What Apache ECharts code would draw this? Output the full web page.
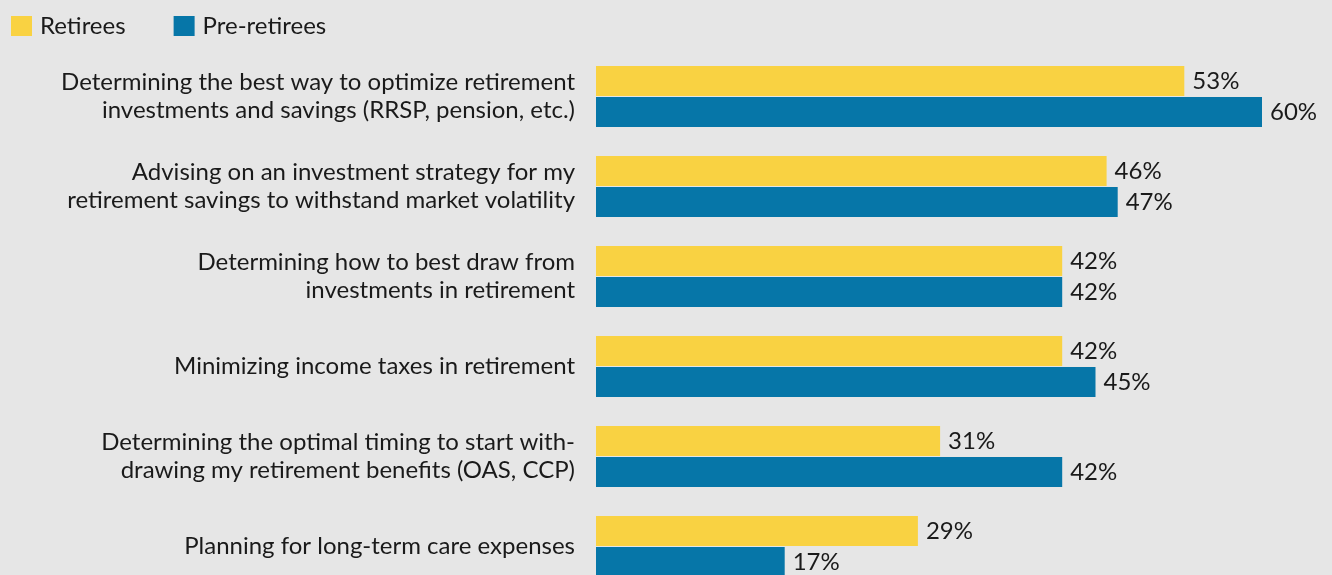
<!DOCTYPE html>
<html>
<head>
<meta charset="utf-8">
<script src="https://cdn.jsdelivr.net/npm/echarts@6/dist/echarts.min.js"></script>
<style>
html,body{margin:0;padding:0;background:#e6e6e6;}
#chart{width:1332px;height:575px;}
</style>
</head>
<body>
<div id="chart"></div>
<script>
const categories = [
  "Determining the best way to optimize retirement\ninvestments and savings (RRSP, pension, etc.)",
  "Advising on an investment strategy for my\nretirement savings to withstand market volatility",
  "Determining how to best draw from\ninvestments in retirement",
  "Minimizing income taxes in retirement",
  "Determining the optimal timing to start with-\ndrawing my retirement benefits (OAS, CCP)",
  "Planning for long-term care expenses"
];
const retirees = [53, 46, 42, 42, 31, 29];
const preRetirees = [60, 47, 42, 45, 42, 17];
const seriesNames = ["Retirees", "Pre-retirees"];

const FONT = "Lato";
const chart = echarts.init(document.getElementById('chart'));
const labelCfg = {
  show: true,
  position: 'right',
  distance: 8,
  formatter: '{c}%',
  color: '#1a1a1a',
  fontFamily: FONT,
  fontSize: 24
};
chart.setOption({
  backgroundColor: '#e6e6e6',
  animation: false,
  legend: {
    left: 11,
    top: 14,
    padding: 0,
    itemWidth: 21,
    itemHeight: 20,
    itemGap: 48,
    icon: 'rect',
    textStyle: { fontFamily: FONT, fontSize: 24, color: '#1a1a1a', padding: [0, 0, 0, 3] },
    data: seriesNames
  },
  grid: {
    left: 596,
    top: 51.5,
    width: 666,
    height: 540,
    containLabel: false,
    outerBoundsMode: 'none'
  },
  xAxis: {
    type: 'value',
    min: 0,
    max: 60,
    show: false
  },
  yAxis: {
    type: 'category',
    inverse: true,
    data: categories,
    axisLine: { show: false },
    axisTick: { show: false },
    axisLabel: {
      margin: 21,
      color: '#1a1a1a',
      fontFamily: FONT,
      fontSize: 24,
      lineHeight: 28,
      align: 'right'
    }
  },
  series: [
    {
      name: seriesNames[0],
      type: 'bar',
      data: retirees,
      itemStyle: { color: '#f9d242' },
      barWidth: 30,
      barGap: '3%',
      label: labelCfg
    },
    {
      name: seriesNames[1],
      type: 'bar',
      data: preRetirees,
      itemStyle: { color: '#0676a8' },
      barWidth: 30,
      barGap: '3%',
      label: labelCfg
    }
  ]
});
</script>
</body>
</html>
